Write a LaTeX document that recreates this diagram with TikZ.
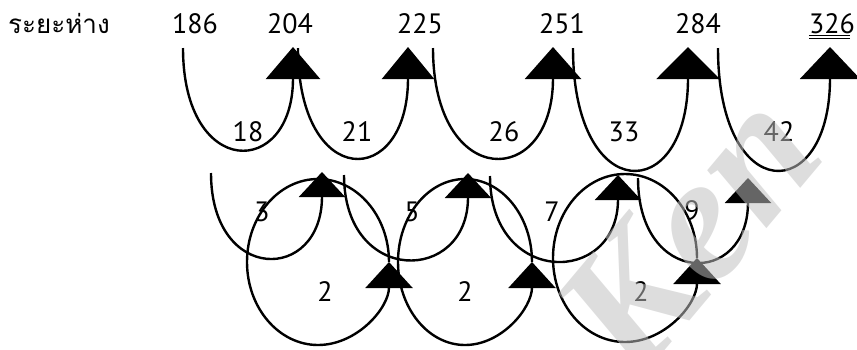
\documentclass[tikz,border=0pt]{standalone}
\usepackage{fontspec}
\setmainfont{PT Sans}
\newfontfamily\thaifont[Script=Thai]{Loma}
\newfontfamily\wmfont{Liberation Serif}
\usetikzlibrary{arrows.meta}
\tikzset{
  numlab/.style={font=\fontsize{28}{32}\selectfont,anchor=base,inner sep=0pt},
  difflab/.style={font=\fontsize{28}{32}\selectfont,inner sep=0pt},
  jumpline/.style={line width=2.4pt,black},
  toptip/.style={jumpline,-{Triangle[length=32pt,width=#1]}},
  midtip/.style={jumpline,-{Triangle[length=25pt,width=46pt]}},
  looptip/.style={jumpline,-{Triangle[length=26pt,width=47pt]}},
  wmark/.style={font=\wmfont\fontsize{180}{180}\selectfont\bfseries\itshape,
    text=black!25,opacity=0.53,rotate=50}}

\begin{document}
\begin{tikzpicture}[x=1pt,y=-1pt]
\useasboundingbox (0,0) rectangle (857,349);
% top row: distances
\node[numlab,anchor=base west,font=\thaifont\fontsize{26}{30}\selectfont] (title) at (8,33) {ระยะห่าง};
\node[numlab] (n1) at (195,33) {186};
\node[numlab] (n2) at (290,33) {204};
\node[numlab] (n3) at (420,33) {225};
\node[numlab] (n4) at (562,33) {251};
\node[numlab] (n5) at (698,33) {284};
\node[numlab] (n6) at (832,33) {326};
\draw[line width=0.8pt] (n6.base west) ++(0,2) -- ++(41,0) ++(0,3) -- ++(-41,0);
% first differences
\coordinate (s1) at (183,48); \coordinate (t1) at (293,47);
\coordinate (s2) at (298,48); \coordinate (t2) at (408,47);
\coordinate (s3) at (433,48); \coordinate (t3) at (553,47);
\coordinate (s4) at (573,48); \coordinate (t4) at (688,47);
\coordinate (s5) at (718,48); \coordinate (t5) at (830,47);
\draw[toptip=54pt] (s1) .. controls +(0,132) and +(0,132) .. (t1);
\draw[toptip=52pt] (s2) .. controls +(0,143) and +(0,143) .. (t2);
\draw[toptip=56pt] (s3) .. controls +(0,143) and +(0,143) .. (t3);
\draw[toptip=63pt] (s4) .. controls +(0,159) and +(0,159) .. (t4);
\draw[toptip=60pt] (s5) .. controls +(0,159) and +(0,159) .. (t5);
\node[difflab] (d1) at (248,132) {18};
\node[difflab] (d2) at (357,132) {21};
\node[difflab] (d3) at (504,132) {26};
\node[difflab] (d4) at (624,132) {33};
\node[difflab] (d5) at (779,132) {42};
% second differences
\coordinate (u1) at (211,173); \coordinate (v1) at (322,172);
\coordinate (u2) at (344,175); \coordinate (v2) at (468,173);
\coordinate (u3) at (490,176); \coordinate (v3) at (618,175);
\coordinate (u4) at (638,178); \coordinate (v4) at (748,178);
\draw[midtip] (u1) .. controls +(0,111) and +(0,111) .. (v1);
\draw[midtip] (u2) .. controls +(0,111) and +(0,111) .. (v2);
\draw[midtip] (u3) .. controls +(0,111) and +(0,111) .. (v3);
\draw[midtip] (u4) .. controls +(0,109) and +(0,109) .. (v4);
\node[difflab] (e1) at (262,212) {3};
\node[difflab] (e2) at (412,212) {5};
\node[difflab] (e3) at (552,212) {7};
\node[difflab] (e4) at (692,211) {9};
% third differences
\coordinate (c1) at (318,262);
\coordinate (c2) at (465,262);
\coordinate (c3) at (625,258);
\draw[looptip] (c1) ++(71,0) arc[start angle=0,end angle=-360,x radius=71,y radius=83];
\draw[looptip] (c2) ++(67,0) arc[start angle=0,end angle=-360,x radius=67,y radius=83];
\draw[looptip] (c3) ++(72,0) arc[start angle=0,end angle=-360,x radius=72,y radius=84];
\node[difflab] (f1) at (325,292) {2};
\node[difflab] (f2) at (465,292) {2};
\node[difflab] (f3) at (641,292) {2};
% watermark
\node[wmark] (wm) at (688,232) {Ken};
\end{tikzpicture}
\end{document}
